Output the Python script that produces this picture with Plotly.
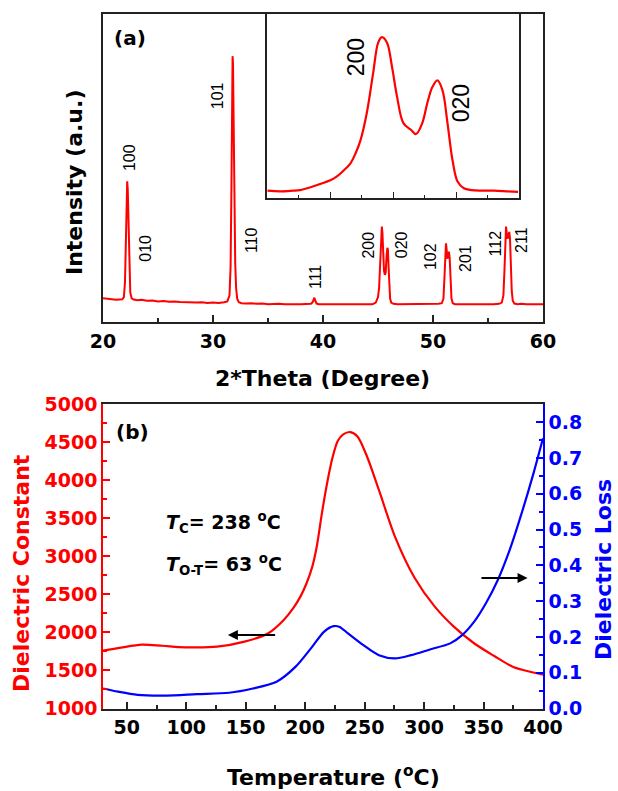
import plotly.graph_objects as go

# ---------------- (a) XRD pattern ----------------
two_theta = [20.0, 20.3, 20.6, 20.9, 21.2, 21.5, 21.75, 21.9, 22.0, 22.08, 22.15, 22.2, 22.25, 22.32,
             22.4, 22.48, 22.6, 22.8, 23.1, 23.5, 24.0, 24.5, 25.0, 25.5, 26.0, 26.5, 27.0, 27.5,
             28.0, 28.5, 29.0, 29.5, 30.0, 30.5, 31.0, 31.3, 31.5, 31.6, 31.68, 31.74, 31.78, 31.82,
             31.88, 31.95, 32.02, 32.1, 32.2, 32.35, 32.6, 33.0, 33.5, 34.0, 34.5, 35.0, 35.5, 36.0,
             36.5, 37.0, 37.5, 38.0, 38.5, 38.9, 39.05, 39.15, 39.22, 39.3, 39.42, 39.6, 40.0, 40.5,
             41.0, 41.5, 42.0, 42.5, 43.0, 43.5, 44.0, 44.5, 44.8, 45.0, 45.1, 45.18, 45.25, 45.3,
             45.35, 45.4, 45.47, 45.55, 45.62, 45.7, 45.78, 45.85, 45.9, 45.96, 46.03, 46.1, 46.2,
             46.4, 46.8, 47.2, 47.6, 48.0, 48.5, 49.0, 49.5, 50.0, 50.5, 50.8, 50.95, 51.05, 51.12,
             51.18, 51.24, 51.3, 51.38, 51.45, 51.52, 51.6, 51.68, 51.8, 52.0, 52.5, 53.0, 53.5, 54.0,
             54.5, 55.0, 55.5, 56.0, 56.25, 56.4, 56.5, 56.58, 56.64, 56.7, 56.78, 56.86, 56.93, 57.0,
             57.08, 57.16, 57.25, 57.4, 57.7, 58.0, 58.5, 59.0, 59.5, 60.0]
intensity = [76, 75, 72, 73, 71, 72, 73, 80, 130, 260, 400, 456, 430, 320,
             170, 95, 76, 72, 70, 71, 68, 69, 66, 67, 65, 66, 64, 63,
             64, 62, 63, 61, 62, 61, 63, 66, 85, 180, 450, 760, 863, 840,
             640, 360, 190, 110, 75, 63, 60, 59, 60, 58, 59, 57, 58, 58,
             57, 58, 57, 57, 58, 58, 63, 74, 78, 68, 59, 57, 57, 58,
             57, 57, 58, 57, 57, 57, 58, 57, 62, 80, 110, 170, 250, 300,
             309, 290, 220, 165, 152, 160, 215, 240, 235, 180, 110, 75, 62,
             58, 57, 57, 58, 57, 57, 57, 58, 57, 58, 60, 75, 150, 235,
             255, 235, 205, 212, 228, 205, 130, 75, 60, 57, 57, 58, 57, 57,
             58, 57, 57, 58, 62, 85, 170, 270, 309, 290, 270, 280, 292, 270,
             180, 100, 68, 59, 57, 58, 57, 57, 58, 57]

# Miller indices and where each label sits (2theta, intensity)
hkl_labels = ["100", "010", "101", "110", "111", "200", "020", "102", "201", "112", "211"]
hkl_x = [22.36, 23.9, 30.36, 33.45, 39.27, 44.14, 47.1, 49.73, 52.9, 55.68, 58.1]
hkl_y = [535, 240, 736, 265, 145, 249, 249, 210, 207, 256, 266]

# Inset: zoom of the 200/020 doublet
inset_theta = [44.5, 44.6, 44.7, 44.76, 44.85, 44.92, 45.0, 45.05, 45.1, 45.16, 45.2, 45.24, 45.29,
               45.34, 45.38, 45.41, 45.45, 45.49, 45.53, 45.58, 45.64, 45.68, 45.73, 45.77, 45.81,
               45.85, 45.89, 45.93, 45.97, 46.01, 46.06, 46.12, 46.2, 46.3, 46.4, 46.49]
inset_int = [57, 56, 57, 58, 63, 68, 74, 80, 89, 102, 118, 140, 185,
             250, 300, 309, 300, 260, 211, 168, 157, 150, 168, 201, 227,
             238, 222, 168, 107, 72, 61, 58, 57, 57, 56, 55]
inset_labels = ["200", "020"]
inset_lx = [45.2, 46.04]
inset_ly = [275, 201]

# ---------------- (b) dielectric properties ----------------
temp_eps = [30, 45, 62.6, 80, 99, 126, 149, 169, 182, 190, 196, 201, 206, 210, 214, 219, 223,
            227.5, 232, 238, 244, 252, 262, 275.5, 292, 309, 325, 342, 359, 375, 390, 400]
eps = [1760, 1800, 1840, 1825, 1805, 1813, 1879, 1990, 2165, 2320, 2471, 2640, 2866, 3150, 3560,
       4007, 4300, 4520, 4605, 4635, 4577, 4314, 3875, 3261, 2720, 2340, 2077, 1858, 1690, 1545,
       1480, 1445]
temp_loss = [30, 42.6, 59, 83, 109, 136, 156, 176, 192, 206, 216, 224, 229, 236, 249, 262, 275.5,
             289, 305, 322, 332, 342, 352, 362, 372, 382, 392, 400]
loss = [0.056, 0.047, 0.038, 0.036, 0.040, 0.044, 0.056, 0.075, 0.117, 0.173, 0.215, 0.230, 0.228,
        0.21, 0.177, 0.149, 0.140, 0.149, 0.165, 0.182, 0.205, 0.242, 0.294, 0.359, 0.443, 0.545,
        0.657, 0.755]

RED = "#ff0000"
BLUE = "#0000ff"
W, H = 618, 791
TICKFONT = dict(family="DejaVu Sans", size=19, weight="bold")
TITLEFONT = dict(family="DejaVu Sans", size=22, weight="bold", color="black")


def px_x(p):
    return p / W


def px_y(p):
    return 1 - p / H


fig = go.Figure()
fig.add_trace(go.Scatter(x=two_theta, y=intensity, mode="lines",
                         line=dict(color=RED, width=2), xaxis="x", yaxis="y"))
fig.add_trace(go.Scatter(x=inset_theta, y=inset_int, mode="lines",
                         line=dict(color=RED, width=2.2, shape="spline"), xaxis="x3", yaxis="y3"))
fig.add_trace(go.Scatter(x=temp_eps, y=eps, mode="lines",
                         line=dict(color=RED, width=2.2, shape="spline", smoothing=0.8),
                         xaxis="x2", yaxis="y2"))
fig.add_trace(go.Scatter(x=temp_loss, y=loss, mode="lines",
                         line=dict(color=BLUE, width=2.2, shape="spline", smoothing=0.8),
                         xaxis="x2", yaxis="y4"))

dom_x = [px_x(103), px_x(543)]
frame = dict(showline=True, linecolor="#222222", linewidth=1.5, showgrid=False, zeroline=False,
             automargin=False)

fig.update_layout(
    width=W, height=H, margin=dict(l=0, r=0, t=0, b=0, autoexpand=False),
    paper_bgcolor="white", plot_bgcolor="rgba(0,0,0,0)", showlegend=False,
    xaxis=dict(domain=dom_x, anchor="y", range=[20, 60], dtick=10, tick0=20, mirror=True,
               ticks="inside", ticklen=7, tickwidth=1.5, tickcolor="#222222",
               minor=dict(ticks="inside", ticklen=4, dtick=5, tickcolor="#222222"),
               tickfont=dict(TICKFONT, color="black"), ticklabelstandoff=2, **frame),
    yaxis=dict(domain=[px_y(321.7), px_y(14)], anchor="x", range=[0, 1000], mirror=True,
               ticks="", showticklabels=False, **frame),
    xaxis3=dict(domain=[px_x(267.3), px_x(519.3)], anchor="y3", range=[44.5, 46.5], mirror=True,
                dtick=0.5, tick0=45, ticks="inside", ticklen=6, tickwidth=1.2, tickcolor="#222222",
                minor=dict(ticks="inside", ticklen=3, dtick=0.25, tickcolor="#222222"),
                showticklabels=False, **frame),
    yaxis3=dict(domain=[px_y(198), px_y(14)], anchor="x3", range=[45, 347], mirror=True,
                ticks="", showticklabels=False, **frame),
    xaxis2=dict(domain=dom_x, anchor="y2", range=[30, 400], dtick=50, tick0=0, mirror=True,
                ticks="inside", ticklen=7, tickwidth=1.5, tickcolor="#222222",
                minor=dict(ticks="inside", ticklen=4, dtick=25, tickcolor="#222222"),
                tickfont=dict(TICKFONT, color="black"), ticklabelstandoff=1, **frame),
    yaxis2=dict(domain=[px_y(708.5), px_y(404.3)], anchor="x2", range=[1000, 5000], dtick=500,
                ticks="inside", ticklen=7, tickwidth=1.5, tickcolor=RED,
                minor=dict(ticks="inside", ticklen=4, dtick=250, tickcolor=RED),
                tickfont=dict(TICKFONT, color=RED), showline=True, linecolor=RED, linewidth=1.5,
                showgrid=False, zeroline=False, automargin=False),
    yaxis4=dict(overlaying="y2", side="right", anchor="x2", range=[0, 0.85], dtick=0.1,
                tickformat=".1f", ticks="inside", ticklen=7, tickwidth=1.5, tickcolor=BLUE,
                minor=dict(ticks="inside", ticklen=4, dtick=0.05, tickcolor=BLUE),
                tickfont=dict(TICKFONT, color=BLUE), showline=True, linecolor=BLUE, linewidth=1.5,
                showgrid=False, zeroline=False, automargin=False),
)

CENTER = dict(xanchor="center", yanchor="middle", showarrow=False)
ann = []
# peak indices on the main pattern
for t, x, y in zip(hkl_labels, hkl_x, hkl_y):
    ann.append(dict(text=t, x=x, y=y, xref="x", yref="y", textangle=-90,
                    font=dict(family="Liberation Sans", size=16, color="black"), **CENTER))
for t, x, y in zip(inset_labels, inset_lx, inset_ly):
    ann.append(dict(text=t, x=x, y=y, xref="x3", yref="y3", textangle=-90,
                    font=dict(family="Liberation Sans", size=23, color="black"), **CENTER))

# panel tags
ann.append(dict(text="(a)", x=px_x(130), y=px_y(38), xref="paper", yref="paper",
                font=dict(family="DejaVu Sans", size=20, weight="bold", color="black"), **CENTER))
ann.append(dict(text="(b)", x=px_x(132), y=px_y(432), xref="paper", yref="paper",
                font=dict(family="DejaVu Sans", size=20, weight="bold", color="black"), **CENTER))

# axis titles
ann.append(dict(text="2*Theta (Degree)", x=px_x(323), y=px_y(378), xref="paper", yref="paper",
                font=TITLEFONT, **CENTER))
ann.append(dict(text="Intensity (a.u.)", x=px_x(75), y=px_y(183), xref="paper", yref="paper",
                textangle=-90, font=TITLEFONT, **CENTER))
ann.append(dict(text="Dielectric Constant", x=px_x(21), y=px_y(573), xref="paper", yref="paper",
                textangle=-90, font=dict(TITLEFONT, color=RED), **CENTER))
ann.append(dict(text="Dielectric Loss", x=px_x(603), y=px_y(570), xref="paper", yref="paper",
                textangle=-90, font=dict(TITLEFONT, color=BLUE), **CENTER))
ann.append(dict(text="Temperature (<sup>o</sup>C)", x=px_x(333), y=px_y(776), xref="paper",
                yref="paper", font=TITLEFONT, **CENTER))

# transition temperatures
tfont = dict(family="DejaVu Sans", size=19, weight="bold", color="black")
ann.append(dict(text="<i>T</i><sub>C</sub>= 238 <sup>o</sup>C", x=81, y=3441, xref="x2", yref="y2",
                xanchor="left", yanchor="middle", showarrow=False, font=tfont))
ann.append(dict(text="<i>T</i><sub>O-T</sub>= 63 <sup>o</sup>C", x=81, y=2888, xref="x2", yref="y2",
                xanchor="left", yanchor="middle", showarrow=False, font=tfont))

# arrows pointing to the relevant axis
ann.append(dict(x=135, y=1967, ax=176, ay=1967, xref="x2", yref="y2", axref="x2", ayref="y2",
                text="", showarrow=True, arrowhead=2, arrowsize=1, arrowwidth=2, arrowcolor="black"))
ann.append(dict(x=387, y=2717, ax=347, ay=2717, xref="x2", yref="y2", axref="x2", ayref="y2",
                text="", showarrow=True, arrowhead=2, arrowsize=1, arrowwidth=2, arrowcolor="black"))

fig.update_layout(annotations=ann)
fig.write_html("out.html")
